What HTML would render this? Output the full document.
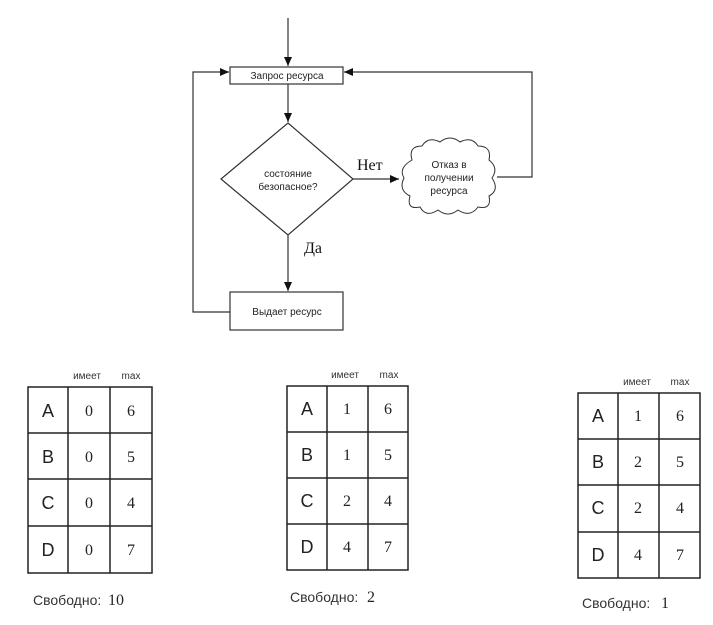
<!DOCTYPE html>
<html><head><meta charset="utf-8"><style>body{margin:0;background:#fff}svg{display:block}</style></head>
<body>
<svg width="713" height="625" viewBox="0 0 713 625" xmlns="http://www.w3.org/2000/svg">
<defs><marker id="a" markerWidth="10" markerHeight="10" refX="9" refY="5" orient="auto" markerUnits="userSpaceOnUse"><path d="M0,1 L9,5 L0,9 z" fill="#111"/></marker></defs>
<g stroke="#333" stroke-width="1.2" fill="none">
<line x1="288" y1="18" x2="288" y2="66" marker-end="url(#a)"/>
<rect x="230" y="67" width="113" height="17" fill="#fff"/>
<line x1="288" y1="84" x2="288" y2="122" marker-end="url(#a)"/>
<polygon points="288,123 353,179 288,235 221,179" fill="#fff"/>
<line x1="353" y1="179" x2="399" y2="179" marker-end="url(#a)"/>
<path d="M412,160 Q408,146 422,146 Q428,136 440,142 Q450,134 460,142 Q472,136 478,146 Q492,146 489,160 Q499,168 492,178 Q500,190 489,196 Q492,210 478,207 Q470,218 458,210 Q448,218 438,210 Q426,218 420,207 Q406,210 410,196 Q398,190 404,178 Q398,168 412,160 Z" fill="#fff" stroke-width="1"/>
<polyline points="497,177 532,177 532,72 344,72" marker-end="url(#a)"/>
<line x1="288" y1="235" x2="288" y2="291" marker-end="url(#a)"/>
<rect x="230" y="292" width="113" height="38" fill="#fff"/>
<polyline points="230,312 193,312 193,72 229,72" marker-end="url(#a)"/>
</g>
<g font-family="Liberation Sans, sans-serif" font-size="10" fill="#222" text-anchor="middle">
<text x="287" y="79">Запрос ресурса</text>
<text x="288" y="177">состояние</text>
<text x="288" y="190">безопасное?</text>
<text x="449" y="168">Отказ в</text>
<text x="449" y="181">получении</text>
<text x="449" y="194">ресурса</text>
<text x="287" y="315">Выдает ресурс</text>
</g>
<g font-family="Liberation Serif, serif" font-size="16" fill="#111">
<text x="357" y="170">Нет</text>
<text x="304" y="253">Да</text>
</g>
<g stroke="#222" stroke-width="1.5" fill="none">
<rect x="28" y="387" width="124" height="186"/>
<line x1="68" y1="387" x2="68" y2="573"/><line x1="110" y1="387" x2="110" y2="573"/>
<line x1="28" y1="433" x2="152" y2="433"/><line x1="28" y1="479" x2="152" y2="479"/><line x1="28" y1="526" x2="152" y2="526"/>
<rect x="287" y="386" width="121" height="184"/>
<line x1="327" y1="386" x2="327" y2="570"/><line x1="368" y1="386" x2="368" y2="570"/>
<line x1="287" y1="432" x2="408" y2="432"/><line x1="287" y1="478" x2="408" y2="478"/><line x1="287" y1="524" x2="408" y2="524"/>
<rect x="578" y="393" width="122" height="185"/>
<line x1="618" y1="393" x2="618" y2="578"/><line x1="659" y1="393" x2="659" y2="578"/>
<line x1="578" y1="439" x2="700" y2="439"/><line x1="578" y1="485" x2="700" y2="485"/><line x1="578" y1="532" x2="700" y2="532"/>
</g>
<g font-family="Liberation Sans, sans-serif" font-size="10" fill="#333" text-anchor="middle">
<text x="87" y="379">имеет</text><text x="131" y="379">max</text>
<text x="345" y="378">имеет</text><text x="389" y="378">max</text>
<text x="637" y="385">имеет</text><text x="680" y="385">max</text>
</g>
<g font-family="Liberation Sans, sans-serif" font-size="18" fill="#222" text-anchor="middle">
<text x="48" y="417">A</text><text x="48" y="463">B</text><text x="48" y="509">C</text><text x="48" y="556">D</text>
<text x="307" y="415">A</text><text x="307" y="461">B</text><text x="307" y="507">C</text><text x="307" y="553">D</text>
<text x="598" y="422">A</text><text x="598" y="468">B</text><text x="598" y="514">C</text><text x="598" y="561">D</text>
</g>
<g font-family="Liberation Serif, serif" font-size="16" fill="#222" text-anchor="middle">
<text x="89" y="416">0</text><text x="131" y="416">6</text>
<text x="89" y="462">0</text><text x="131" y="462">5</text>
<text x="89" y="508">0</text><text x="131" y="508">4</text>
<text x="89" y="555">0</text><text x="131" y="555">7</text>
<text x="347" y="414">1</text><text x="388" y="414">6</text>
<text x="347" y="460">1</text><text x="388" y="460">5</text>
<text x="347" y="506">2</text><text x="388" y="506">4</text>
<text x="347" y="552">4</text><text x="388" y="552">7</text>
<text x="638" y="421">1</text><text x="680" y="421">6</text>
<text x="638" y="467">2</text><text x="680" y="467">5</text>
<text x="638" y="513">2</text><text x="680" y="513">4</text>
<text x="638" y="560">4</text><text x="680" y="560">7</text>
</g>
<g font-family="Liberation Sans, sans-serif" font-size="14" fill="#333">
<text x="33" y="605">Свободно:</text><text x="290" y="602">Свободно:</text><text x="582" y="608">Свободно:</text>
</g>
<g font-family="Liberation Serif, serif" font-size="16" fill="#222">
<text x="108" y="605">10</text><text x="367" y="602">2</text><text x="661" y="608">1</text>
</g>
</svg>
</body></html>
